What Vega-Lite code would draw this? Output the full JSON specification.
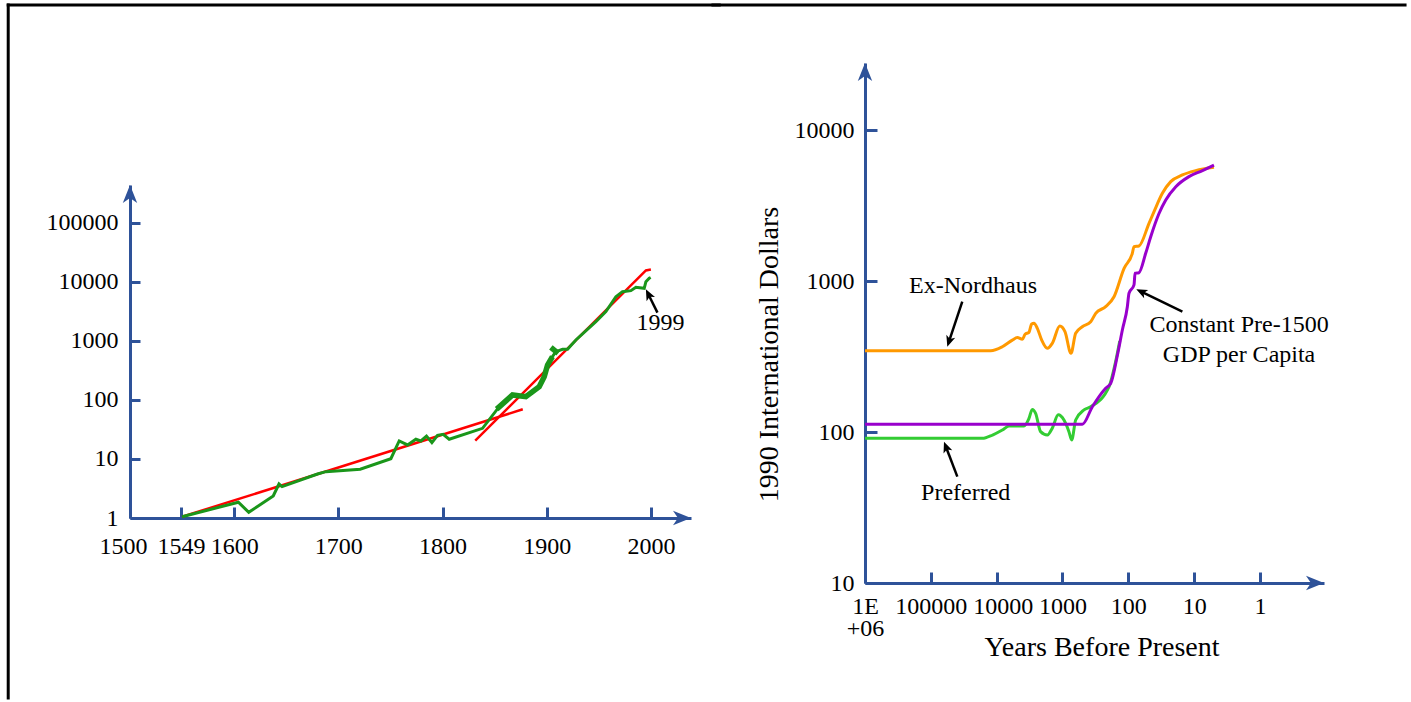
{
  "$schema": "https://vega.github.io/schema/vega-lite/v6.json",
  "background": "white",
  "padding": {"left": 6, "top": 2, "right": 0, "bottom": 0},
  "spacing": -12,
  "config": {
    "view": {"stroke": null},
    "font": "Liberation Serif",
    "axis": {
      "domainColor": "#2E5299", "domainWidth": 3,
      "tickColor": "#2E5299", "tickWidth": 3,
      "labelFont": "Liberation Serif", "labelFontSize": 24, "labelColor": "#000000",
      "titleFont": "Liberation Serif", "titleFontSize": 28, "titleFontWeight": "normal", "titleColor": "#000000",
      "grid": false, "labelOverlap": false, "labelFlush": false, "labelBound": false
    }
  },
  "datasets": {
    "one": [{}],
    "left_red": [
      {"year": 1550, "gdp": 1.05, "seg": "a"}, {"year": 1877, "gdp": 69.5, "seg": "a"},
      {"year": 1831.4, "gdp": 20.4, "seg": "b"}, {"year": 1995.2, "gdp": 15700, "seg": "b"}, {"year": 2000, "gdp": 16300, "seg": "b"}
    ],
    "left_green": [
      {"year": 1550, "gdp": 1.05}, {"year": 1604, "gdp": 1.85}, {"year": 1614, "gdp": 1.25}, {"year": 1637.5, "gdp": 2.36},
      {"year": 1643, "gdp": 3.77}, {"year": 1646, "gdp": 3.4}, {"year": 1680, "gdp": 5.57}, {"year": 1688, "gdp": 6.1},
      {"year": 1721, "gdp": 6.7}, {"year": 1750.4, "gdp": 10.1}, {"year": 1758.4, "gdp": 20.2}, {"year": 1766.4, "gdp": 17.3},
      {"year": 1774.4, "gdp": 21.6}, {"year": 1779.2, "gdp": 20.2}, {"year": 1784.6, "gdp": 24.5}, {"year": 1789.8, "gdp": 18.9},
      {"year": 1795.2, "gdp": 25.2}, {"year": 1800.6, "gdp": 26.2}, {"year": 1806.4, "gdp": 21.6}, {"year": 1838.4, "gdp": 33.1},
      {"year": 1854.4, "gdp": 77}, {"year": 1867.2, "gdp": 121.5}, {"year": 1880, "gdp": 114}, {"year": 1892.8, "gdp": 168},
      {"year": 1897.6, "gdp": 248}, {"year": 1900.8, "gdp": 392}, {"year": 1905.5, "gdp": 542}, {"year": 1908.8, "gdp": 659},
      {"year": 1915.2, "gdp": 723}, {"year": 1920, "gdp": 723}, {"year": 1928, "gdp": 1040}, {"year": 1947.2, "gdp": 2120},
      {"year": 1956.8, "gdp": 3140}, {"year": 1966.4, "gdp": 5630}, {"year": 1972.7, "gdp": 6850}, {"year": 1980.8, "gdp": 7130},
      {"year": 1985.6, "gdp": 8130}, {"year": 1993.6, "gdp": 7820}, {"year": 1995.2, "gdp": 10100}, {"year": 1998.4, "gdp": 11560},
      {"year": 1999.8, "gdp": 11900}
    ],
    "left_thick": [
      {"year": 1852, "gdp": 70, "seg": "a"}, {"year": 1867.2, "gdp": 121.5, "seg": "a"}, {"year": 1880, "gdp": 114, "seg": "a"},
      {"year": 1892.8, "gdp": 168, "seg": "a"}, {"year": 1897.6, "gdp": 248, "seg": "a"}, {"year": 1900.8, "gdp": 392, "seg": "a"},
      {"year": 1905.5, "gdp": 542, "seg": "a"},
      {"year": 1904, "gdp": 782, "seg": "b"}, {"year": 1911, "gdp": 619, "seg": "b"}
    ],
    "orange": [
      {"ybp": 1000000, "gdp": 345}, {"ybp": 12300, "gdp": 345}, {"ybp": 8200, "gdp": 367}, {"ybp": 5780, "gdp": 406},
      {"ybp": 4850, "gdp": 422}, {"ybp": 4070, "gdp": 411}, {"ybp": 3700, "gdp": 444}, {"ybp": 3230, "gdp": 457},
      {"ybp": 2940, "gdp": 519}, {"ybp": 2710, "gdp": 525}, {"ybp": 2410, "gdp": 486}, {"ybp": 2070, "gdp": 406},
      {"ybp": 1700, "gdp": 358}, {"ybp": 1430, "gdp": 386}, {"ybp": 1100, "gdp": 503}, {"ybp": 917, "gdp": 462},
      {"ybp": 743, "gdp": 332}, {"ybp": 631, "gdp": 451}, {"ybp": 500, "gdp": 498}, {"ybp": 373, "gdp": 537},
      {"ybp": 313, "gdp": 611}, {"ybp": 221, "gdp": 676}, {"ybp": 165, "gdp": 787}, {"ybp": 116, "gdp": 1213},
      {"ybp": 87, "gdp": 1525}, {"ybp": 82, "gdp": 1687}, {"ybp": 69, "gdp": 1706}, {"ybp": 48.5, "gdp": 2410},
      {"ybp": 40.7, "gdp": 2880}, {"ybp": 30.4, "gdp": 3810}, {"ybp": 22.7, "gdp": 4550}, {"ybp": 15.1, "gdp": 5040},
      {"ybp": 9.5, "gdp": 5380}, {"ybp": 5, "gdp": 5660}
    ],
    "green": [
      {"ybp": 1000000, "gdp": 90.8}, {"ybp": 16500, "gdp": 90.8}, {"ybp": 11560, "gdp": 95.5}, {"ybp": 8200, "gdp": 103},
      {"ybp": 6500, "gdp": 109.6}, {"ybp": 3850, "gdp": 109.6}, {"ybp": 3230, "gdp": 123}, {"ybp": 2880, "gdp": 141},
      {"ybp": 2560, "gdp": 133}, {"ybp": 2150, "gdp": 100.5}, {"ybp": 1700, "gdp": 95.5}, {"ybp": 1430, "gdp": 106},
      {"ybp": 1160, "gdp": 130}, {"ybp": 950, "gdp": 120}, {"ybp": 798, "gdp": 100.5}, {"ybp": 725, "gdp": 88.5},
      {"ybp": 631, "gdp": 120}, {"ybp": 472, "gdp": 140}, {"ybp": 373, "gdp": 147}, {"ybp": 196, "gdp": 200},
      {"ybp": 156, "gdp": 292}, {"ybp": 135, "gdp": 400}
    ],
    "purple": [
      {"ybp": 1000000, "gdp": 112.5}, {"ybp": 500, "gdp": 112.5}, {"ybp": 352, "gdp": 147}, {"ybp": 221, "gdp": 195},
      {"ybp": 185, "gdp": 210}, {"ybp": 147, "gdp": 320}, {"ybp": 123, "gdp": 475}, {"ybp": 103.5, "gdp": 676},
      {"ybp": 97.7, "gdp": 830}, {"ybp": 82, "gdp": 942}, {"ybp": 79, "gdp": 1125}, {"ybp": 69, "gdp": 1135},
      {"ybp": 54.5, "gdp": 1525}, {"ybp": 45.7, "gdp": 1965}, {"ybp": 34.2, "gdp": 2800}, {"ybp": 27, "gdp": 3440},
      {"ybp": 19, "gdp": 4210}, {"ybp": 12, "gdp": 4910}, {"ybp": 7.5, "gdp": 5380}, {"ybp": 5, "gdp": 5860}
    ],
    "right_arrows": [
      {"name": "nord", "ybp": 33300, "gdp": 730, "ybp2": 52600, "gdp2": 401, "tipx": 56200, "tipy": 367},
      {"name": "pref", "ybp": 39600, "gdp": 50.6, "ybp2": 58600, "gdp2": 79.3, "tipx": 63100, "tipy": 86.3},
      {"name": "const", "ybp": 15.1, "gdp": 626, "ybp2": 62.7, "gdp2": 847, "tipx": 75.7, "tipy": 881}
    ],
    "right_text": [
      {"ybp": 22860, "gdp": 834, "label": "Ex-Nordhaus"},
      {"ybp": 29500, "gdp": 35.5, "label": "Preferred"},
      {"ybp": 2.08, "gdp": 461, "label": "Constant Pre-1500"},
      {"ybp": 2.08, "gdp": 292, "label": "GDP per Capita"}
    ]
  },
  "hconcat": [
    {
      "width": 561,
      "height": 455,
      "layer": [
        {
          "data": {"name": "left_red"},
          "mark": {"type": "line", "color": "#FF0000", "strokeWidth": 2.5},
          "encoding": {
            "x": {"field": "year", "type": "quantitative",
                  "scale": {"domain": [1500, 2038.5], "nice": false, "zero": false},
                  "axis": {"title": null, "values": [1500, 1549, 1600, 1700, 1800, 1900, 2000], "format": "d",
                           "labelOffset": {"condition": {"test": "datum.value == 1500", "value": -7}, "value": 0},
                           "tickSize": -11, "labelPadding": 27}},
            "y": {"field": "gdp", "type": "quantitative",
                  "scale": {"type": "log", "domain": [1, 440000], "range": [455, 122], "nice": false},
                  "axis": {"title": null, "values": [1, 10, 100, 1000, 10000, 100000], "format": "d", "tickSize": -10, "labelPadding": 22}},
            "detail": {"field": "seg"}
          }
        },
        {
          "data": {"name": "left_green"},
          "mark": {"type": "line", "color": "#1A961A", "strokeWidth": 3},
          "encoding": {
            "x": {"field": "year", "type": "quantitative"},
            "y": {"field": "gdp", "type": "quantitative"}
          }
        },
        {
          "data": {"name": "left_thick"},
          "mark": {"type": "line", "color": "#1A961A", "strokeWidth": 5.5},
          "encoding": {
            "x": {"field": "year", "type": "quantitative"},
            "y": {"field": "gdp", "type": "quantitative"},
            "detail": {"field": "seg"}
          }
        },
        {
          "data": {"values": [{"year": 2006.3, "gdp": 3020, "year2": 1997.8, "gdp2": 6090}]},
          "mark": {"type": "rule", "color": "#000000", "strokeWidth": 2.5},
          "encoding": {
            "x": {"field": "year", "type": "quantitative"},
            "y": {"field": "gdp", "type": "quantitative"},
            "x2": {"field": "year2"},
            "y2": {"field": "gdp2"}
          }
        },
        {
          "data": {"values": [{"year": 1995.2, "gdp": 7520}]},
          "mark": {"type": "point", "shape": "M0,0L-2,-0.85L-1.5,0L-2,0.85Z", "size": 121, "filled": true, "opacity": 1, "color": "#000000", "strokeWidth": 0, "angle": 243.6},
          "encoding": {
            "x": {"field": "year", "type": "quantitative"},
            "y": {"field": "gdp", "type": "quantitative"}
          }
        },
        {
          "data": {"values": [{"year": 2009.2, "gdp": 1535, "label": "1999"}]},
          "mark": {"type": "text", "fontSize": 24, "font": "Liberation Serif", "align": "center", "baseline": "alphabetic", "color": "#000000"},
          "encoding": {
            "x": {"field": "year", "type": "quantitative"},
            "y": {"field": "gdp", "type": "quantitative"},
            "text": {"field": "label"}
          }
        },
        {
          "data": {"name": "one"},
          "mark": {"type": "point", "shape": "M0,0L-2,-0.8L-1.45,0L-2,0.8Z", "size": 324, "filled": true, "opacity": 1, "color": "#2E5299", "strokeWidth": 0, "clip": false},
          "encoding": {
            "x": {"datum": 2038.5, "type": "quantitative"},
            "y": {"datum": 1, "type": "quantitative"}
          }
        },
        {
          "data": {"name": "one"},
          "mark": {"type": "point", "shape": "M0,0L-0.8,2L0,1.45L0.8,2Z", "size": 324, "filled": true, "opacity": 1, "color": "#2E5299", "strokeWidth": 0, "clip": false},
          "encoding": {
            "x": {"datum": 1500, "type": "quantitative"},
            "y": {"datum": 440000, "type": "quantitative"}
          }
        },
        {
          "data": {"name": "one"},
          "mark": {"type": "rule", "color": "#000000", "strokeWidth": 3, "strokeCap": "square"},
          "encoding": {
            "x": {"datum": 1383.1, "type": "quantitative"},
            "y": {"datum": 495000000, "type": "quantitative"},
            "y2": {"datum": 0.00089}
          }
        },
        {
          "data": {"name": "one"},
          "mark": {"type": "rule", "color": "#000000", "strokeWidth": 3, "strokeCap": "square"},
          "encoding": {
            "x": {"datum": 1383.1, "type": "quantitative"},
            "x2": {"datum": 2065.6},
            "y": {"datum": 495000000, "type": "quantitative"}
          }
        }
      ]
    },
    {
      "width": 459,
      "height": 520,
      "layer": [
        {
          "data": {"name": "orange"},
          "mark": {"type": "line", "color": "#FF9900", "strokeWidth": 3, "interpolate": "monotone"},
          "encoding": {
            "x": {"field": "ybp", "type": "quantitative",
                  "scale": {"type": "log", "domain": [1000000, 0.1066], "nice": false},
                  "axis": {"title": "Years Before Present", "values": [1000000, 100000, 10000, 1000, 100, 10, 1],
                           "labelExpr": "datum.value >= 999999 ? ['1E', '+06'] : format(datum.value, 'd')",
                           "labelOffset": {"condition": {"test": "datum.value == 10000", "value": 6}, "value": 0},
                           "labelLineHeight": 22, "tickSize": -11, "labelPadding": 22, "titlePadding": -7, "titleX": 236.5}},
            "y": {"field": "gdp", "type": "quantitative",
                  "scale": {"type": "log", "domain": [10, 27780], "nice": false},
                  "axis": {"title": "1990 International Dollars", "values": [10, 100, 1000, 10000], "format": "d", "tickSize": -12, "labelPadding": 23, "titlePadding": 11, "titleY": 291}},
            "order": {"field": "ybp", "sort": "descending"}
          }
        },
        {
          "data": {"name": "green"},
          "mark": {"type": "line", "color": "#33CC33", "strokeWidth": 3, "interpolate": "monotone"},
          "encoding": {
            "x": {"field": "ybp", "type": "quantitative"},
            "y": {"field": "gdp", "type": "quantitative"},
            "order": {"field": "ybp", "sort": "descending"}
          }
        },
        {
          "data": {"name": "purple"},
          "mark": {"type": "line", "color": "#9900CC", "strokeWidth": 3, "interpolate": "monotone"},
          "encoding": {
            "x": {"field": "ybp", "type": "quantitative"},
            "y": {"field": "gdp", "type": "quantitative"},
            "order": {"field": "ybp", "sort": "descending"}
          }
        },
        {
          "data": {"name": "right_arrows"},
          "mark": {"type": "rule", "color": "#000000", "strokeWidth": 2.5},
          "encoding": {
            "x": {"field": "ybp", "type": "quantitative"},
            "y": {"field": "gdp", "type": "quantitative"},
            "x2": {"field": "ybp2"},
            "y2": {"field": "gdp2"}
          }
        },
        {
          "data": {"name": "right_arrows"},
          "transform": [{"filter": "datum.name == 'nord'"}],
          "mark": {"type": "point", "shape": "M0,0L-2,-0.85L-1.5,0L-2,0.85Z", "size": 121, "filled": true, "opacity": 1, "color": "#000000", "strokeWidth": 0, "angle": 108.4},
          "encoding": {
            "x": {"field": "tipx", "type": "quantitative"},
            "y": {"field": "tipy", "type": "quantitative"}
          }
        },
        {
          "data": {"name": "right_arrows"},
          "transform": [{"filter": "datum.name == 'pref'"}],
          "mark": {"type": "point", "shape": "M0,0L-2,-0.85L-1.5,0L-2,0.85Z", "size": 121, "filled": true, "opacity": 1, "color": "#000000", "strokeWidth": 0, "angle": 249.2},
          "encoding": {
            "x": {"field": "tipx", "type": "quantitative"},
            "y": {"field": "tipy", "type": "quantitative"}
          }
        },
        {
          "data": {"name": "right_arrows"},
          "transform": [{"filter": "datum.name == 'const'"}],
          "mark": {"type": "point", "shape": "M0,0L-2,-0.85L-1.5,0L-2,0.85Z", "size": 121, "filled": true, "opacity": 1, "color": "#000000", "strokeWidth": 0, "angle": 206},
          "encoding": {
            "x": {"field": "tipx", "type": "quantitative"},
            "y": {"field": "tipy", "type": "quantitative"}
          }
        },
        {
          "data": {"name": "right_text"},
          "mark": {"type": "text", "fontSize": 24, "font": "Liberation Serif", "align": "center", "baseline": "alphabetic", "color": "#000000"},
          "encoding": {
            "x": {"field": "ybp", "type": "quantitative"},
            "y": {"field": "gdp", "type": "quantitative"},
            "text": {"field": "label"}
          }
        },
        {
          "data": {"name": "one"},
          "mark": {"type": "point", "shape": "M0,0L-2,-0.8L-1.45,0L-2,0.8Z", "size": 324, "filled": true, "opacity": 1, "color": "#2E5299", "strokeWidth": 0, "clip": false},
          "encoding": {
            "x": {"datum": 0.1066, "type": "quantitative"},
            "y": {"datum": 10, "type": "quantitative"}
          }
        },
        {
          "data": {"name": "one"},
          "mark": {"type": "point", "shape": "M0,0L-0.8,2L0,1.45L0.8,2Z", "size": 324, "filled": true, "opacity": 1, "color": "#2E5299", "strokeWidth": 0, "clip": false},
          "encoding": {
            "x": {"datum": 1000000, "type": "quantitative"},
            "y": {"datum": 27780, "type": "quantitative"}
          }
        },
        {
          "data": {"name": "one"},
          "mark": {"type": "rule", "color": "#000000", "strokeWidth": 3, "strokeCap": "square"},
          "encoding": {
            "x": {"datum": 204000000, "type": "quantitative"},
            "x2": {"datum": 0.00626},
            "y": {"datum": 67300, "type": "quantitative"}
          }
        }
      ]
    }
  ]
}
